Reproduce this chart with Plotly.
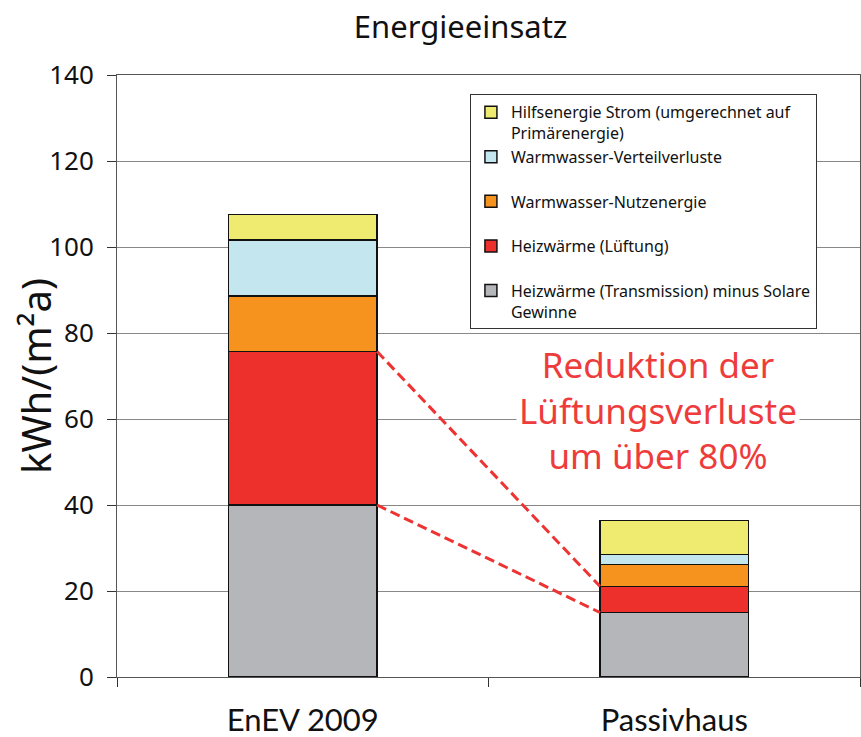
import plotly.graph_objects as go

categories = ["EnEV 2009", "Passivhaus"]
series_names = [
    "Heizwärme (Transmission) minus Solare<br>Gewinne",
    "Heizwärme (Lüftung)<br>\u00a0",
    "Warmwasser-Nutzenergie<br>\u00a0",
    "Warmwasser-Verteilverluste<br>\u00a0",
    "Hilfsenergie Strom (umgerechnet auf<br>Primärenergie)",
]
transmission = [40.0, 15.0]
lueftung = [35.7, 6.1]
ww_nutz = [12.9, 5.1]
ww_verteil = [13.0, 2.3]
hilfsenergie = [6.0, 7.9]
series_values = [transmission, lueftung, ww_nutz, ww_verteil, hilfsenergie]
colors = ["#B5B6B9", "#EE302C", "#F6921E", "#C3E6EF", "#EFEB70"]
y_ticks = [0, 20, 40, 60, 80, 100, 120, 140]

FONT = "Noto Sans"
BAR_W = 0.4

fig = go.Figure()
for name, vals, col in zip(series_names, series_values, colors):
    fig.add_trace(go.Bar(
        x=categories, y=vals, name=name, width=BAR_W,
        marker=dict(color=col, line=dict(color="#111111", width=1.5)),
    ))

# dashed connector lines between the ventilation segments
red_bottom = transmission
red_top = [transmission[i] + lueftung[i] for i in range(2)]
for ys in (red_top, red_bottom):
    fig.add_shape(type="line", xref="x", yref="y",
                  x0=0 + BAR_W / 2, y0=ys[0], x1=1 - BAR_W / 2, y1=ys[1],
                  line=dict(color="#EE3333", width=3, dash="10px,5px"), layer="above")

fig.add_annotation(
    x=0.7275, y=0.4435, xref="paper", yref="paper", xanchor="center", yanchor="middle",
    text="Reduktion der<br>Lüftungsverluste<br>um über 80%",
    showarrow=False, font=dict(family=FONT, size=35, color="#EE3B3B"),
    bgcolor="white", align="center", borderpad=2,
)

# y axis title
fig.add_annotation(
    x=-0.1104, y=0.5, xref="paper", yref="paper", xanchor="center", yanchor="middle",
    text="kWh/(m²a)", textangle=-90, showarrow=False,
    font=dict(family=FONT, size=40, color="#111111"),
)

fig.update_layout(
    width=861, height=737,
    barmode="stack",
    plot_bgcolor="white", paper_bgcolor="white",
    margin=dict(l=117, r=1, t=75, b=60),
    font=dict(family=FONT, color="#111111"),
    title=dict(text="Energieeinsatz", x=0.535, xanchor="center", y=1 - 27 / 737, yanchor="middle",
               font=dict(family=FONT, size=31, color="#111111")),
    legend=dict(
        x=0.475, y=0.968, xanchor="left", yanchor="top",
        traceorder="reversed", valign="top",
        bgcolor="white", bordercolor="#333333", borderwidth=1,
        font=dict(family=FONT, size=16, color="#111111"),
        itemwidth=30,
    ),
    showlegend=True,
)
fig.update_xaxes(
    type="category", range=[-0.5, 1.5],
    tickson="boundaries", ticks="outside", ticklen=9, tickcolor="#333333",
    showline=True, linecolor="#555555", linewidth=1, mirror=True,
    showgrid=False, tickfont=dict(family="Lato", size=31, color="#111111"),
    ticklabelstandoff=16, automargin=False,
)
fig.update_yaxes(
    range=[0, 140], tickvals=y_ticks, ticks="outside", ticklen=9, tickcolor="#333333",
    showline=True, linecolor="#555555", linewidth=1, mirror=True,
    showgrid=True, gridcolor="#888888", gridwidth=1,
    tickfont=dict(family=FONT, size=26, color="#111111"), ticklabelstandoff=8,
    automargin=False, zeroline=False,
)

fig.write_html("out.html", config={"displayModeBar": False},
               post_script="document.body.style.margin='0px';")
